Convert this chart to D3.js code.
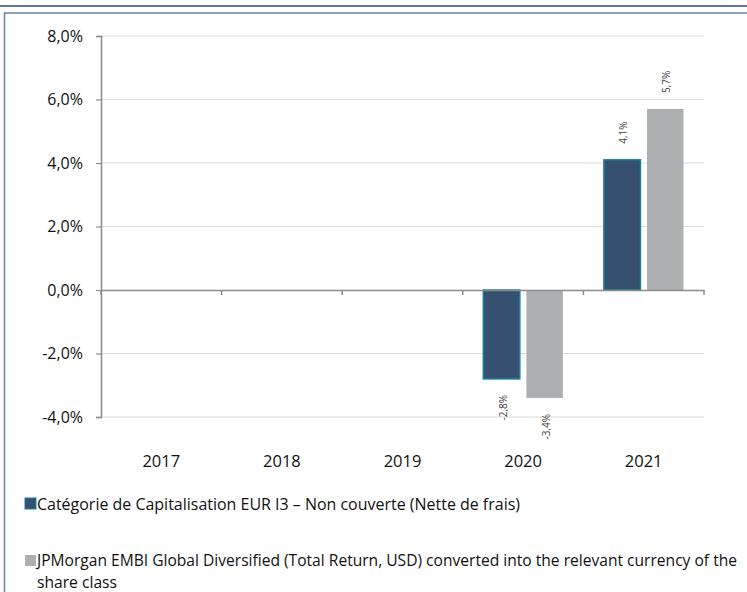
<!DOCTYPE html>
<html><head><meta charset="utf-8">
<script src="https://cdn.jsdelivr.net/npm/d3@7"></script>
<style>
body{margin:0;background:#fff;}
svg{display:block;}
</style></head><body>
<svg id="c" width="747" height="592"></svg>
<script>
const years = ["2017","2018","2019","2020","2021"];
const fundValues = [null,null,null,-2.8,4.1];
const indexValues = [null,null,null,-3.4,5.7];
const yTicks = [-4,-2,0,2,4,6,8];
const legendLines = [
  ["Catégorie de Capitalisation EUR I3 – Non couverte (Nette de frais)"],
  ["JPMorgan EMBI Global Diversified (Total Return, USD) converted into the relevant currency of the", "share class"]
];

const svg = d3.select("#c");
const font = "'Open Sans','Noto Sans',sans-serif";
const fmt = v => d3.format(".1f")(v).replace(".",",").replace("\u2212","-") + "%";
const dark = "#36506f", darkStroke = "#1a7f98", grey = "#aeafb1";

// frame
svg.append("line").attr("x1",0).attr("x2",747).attr("y1",6).attr("y2",6).attr("stroke","#2d4a6e").attr("stroke-width",1.5);
svg.append("path").attr("d","M4.5,600 V13 H747").attr("fill","none").attr("stroke","#6384aa").attr("stroke-width",1.5);

const m = {l:101,r:704,t:36,b:417};
const x = d3.scaleBand().domain(years).range([m.l,m.r]);
const y = d3.scaleLinear().domain([-4,8]).range([m.b,m.t]);

// gridlines
svg.append("g").selectAll("line").data(yTicks.filter(d=>d!==0)).join("line")
  .attr("x1",m.l).attr("x2",m.r).attr("y1",d=>y(d)).attr("y2",d=>y(d))
  .attr("stroke","#dadada").attr("stroke-width",1.2);

// y axis
const yAxis = d3.axisLeft(y).tickValues(yTicks).tickSize(5).tickPadding(13).tickFormat(fmt);
const gy = svg.append("g").attr("transform",`translate(${m.l},0)`).call(yAxis);
gy.select(".domain").attr("stroke","#8c8c8c").attr("stroke-width",1.5);
gy.selectAll(".tick line").attr("stroke","#8c8c8c").attr("stroke-width",1.2);
gy.selectAll("text").attr("font-family",font).attr("font-size",16).attr("fill","#111");

// bars
const inner = d3.scalePoint().domain(["f","i"]).range([0,x.bandwidth()]).padding(0.9);
const bw = 36.5;
const g = svg.append("g");
years.forEach((yr,i)=>{
  const vals = [["f",fundValues[i]],["i",indexValues[i]]];
  vals.forEach(([k,v])=>{
    if(v==null) return;
    const cx = x(yr)+inner(k);
    const y0 = y(Math.max(0,v)), y1 = y(Math.min(0,v));
    g.append("rect").attr("x",cx-bw/2).attr("width",bw).attr("y",y0).attr("height",y1-y0)
      .attr("fill",k==="f"?dark:grey)
      .attr("stroke",k==="f"?darkStroke:"none").attr("stroke-width",1.5);
    const ly = v>=0 ? y(v)-16 : y(v)+16;
    g.append("text").attr("transform",`translate(${cx+5},${ly}) rotate(-90)`)
      .attr("text-anchor",v>=0?"start":"end").attr("font-family",font).attr("font-size",10).attr("fill","#444")
      .text(fmt(v));
  });
});

// x axis at zero
const xAxis = d3.axisBottom(x).tickSize(0).tickFormat("");
const gx = svg.append("g").attr("transform",`translate(0,${y(0)})`).call(xAxis);
gx.select(".domain").attr("stroke","#8c8c8c").attr("stroke-width",1.5);
const bounds = years.map(d=>x(d)).concat([m.r]);
svg.append("g").selectAll("line").data(bounds).join("line")
  .attr("x1",d=>d).attr("x2",d=>d).attr("y1",y(0)).attr("y2",y(0)+5).attr("stroke","#8c8c8c").attr("stroke-width",1.5);

// year labels
svg.append("g").selectAll("text").data(years).join("text")
  .attr("x",d=>x(d)+x.bandwidth()/2).attr("y",467).attr("text-anchor","middle")
  .attr("font-family",font).attr("font-size",16.5).attr("fill","#111").text(d=>d);

// legend
const lg = svg.append("g");
const legendItems = [
  {color:dark, stroke:darkStroke, sq:498, base:[510], widths:[483]},
  {color:grey, stroke:"none", sq:555, base:[566,588], widths:[700,80]}
];
legendItems.forEach((it,i)=>{
  lg.append("rect").attr("x",25).attr("y",it.sq).attr("width",11).attr("height",11)
    .attr("fill",it.color).attr("stroke",it.stroke).attr("stroke-width",1);
  legendLines[i].forEach((t,j)=>{
    lg.append("text").attr("x",37).attr("y",it.base[j]).attr("font-family",font)
      .attr("font-size",15.5).attr("fill","#111").text(t)
      .attr("textLength",it.widths[j]).attr("lengthAdjust","spacingAndGlyphs");
  });
});
</script></body></html>
